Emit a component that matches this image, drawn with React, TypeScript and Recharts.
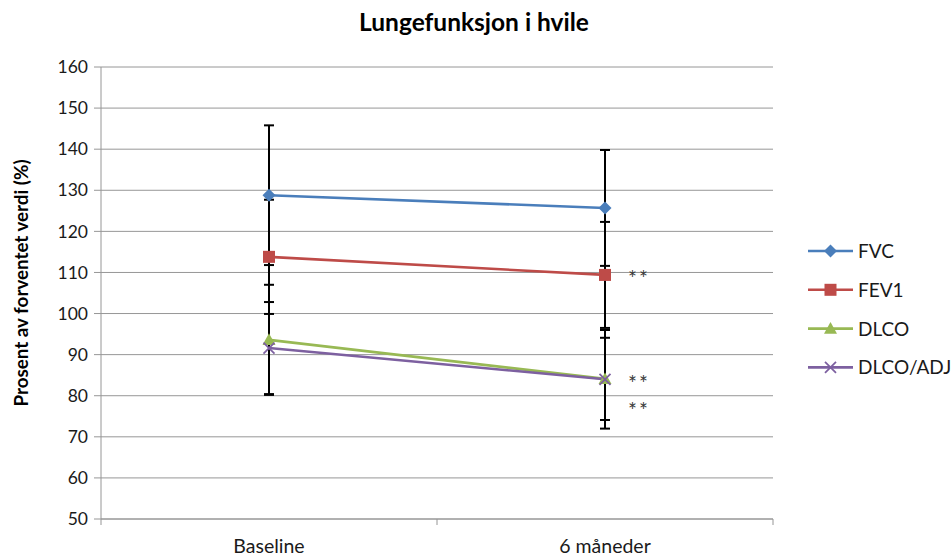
import React from "react";
import { LineChart, Line, XAxis, YAxis, CartesianGrid, ErrorBar } from "recharts";

const categories = ["Baseline", "6 måneder"];
const fvc = [128.8, 125.7];
const fvcErr = [17.0, 14.1];
const fev1 = [113.8, 109.4];
const fev1Err = [13.9, 12.9];
const dlco = [93.6, 84.1];
const dlcoErr = [13.4, 10.0];
const dlcoAdj = [91.6, 84.0];
const dlcoAdjErr = [11.2, 12.0];
const fev1Sig = ["", "**"];
const dlcoSig = ["", "**"];
const dlcoAdjSig = ["", "**"];
const yTicks = [50, 60, 70, 80, 90, 100, 110, 120, 130, 140, 150, 160];

const data = categories.map((c, i) => ({
  cat: c,
  fvc: fvc[i],
  fvcErr: fvcErr[i],
  fev1: fev1[i],
  fev1Err: fev1Err[i],
  dlco: dlco[i],
  dlcoErr: dlcoErr[i],
  dlcoAdj: dlcoAdj[i],
  dlcoAdjErr: dlcoAdjErr[i],
}));

const FONT = "Lato, 'Open Sans', sans-serif";
const C_FVC = "#4A7EBB";
const C_FEV1 = "#BE4B48";
const C_DLCO = "#98B954";
const C_ADJ = "#7D60A0";
const GRID = "#969696";

const Diamond = (p: any) => {
  const { cx, cy, fill } = p;
  if (cx == null || cy == null) return null;
  const r = 6.5;
  return <path d={`M${cx},${cy - r}L${cx + r},${cy}L${cx},${cy + r}L${cx - r},${cy}Z`} fill={fill} />;
};
const Square = (p: any) => {
  const { cx, cy, fill } = p;
  if (cx == null || cy == null) return null;
  const r = 6;
  return <rect x={cx - r} y={cy - r} width={2 * r} height={2 * r} fill={fill} />;
};
const Triangle = (p: any) => {
  const { cx, cy, fill } = p;
  if (cx == null || cy == null) return null;
  const r = 6.5;
  return <path d={`M${cx},${cy - r}L${cx + r},${cy + r * 0.8}L${cx - r},${cy + r * 0.8}Z`} fill={fill} />;
};
const Cross = (p: any) => {
  const { cx, cy, fill } = p;
  if (cx == null || cy == null) return null;
  const r = 5.5;
  return (
    <g stroke={fill} strokeWidth={1.8}>
      <line x1={cx - r} y1={cy - r} x2={cx + r} y2={cy + r} />
      <line x1={cx - r} y1={cy + r} x2={cx + r} y2={cy - r} />
    </g>
  );
};

const mkDot = (Shape: any, color: string) => (p: any) => <Shape key={`d${p.index}`} cx={p.cx} cy={p.cy} fill={color} />;

const mkSig = (arr: string[], dy: number) => (p: any) => {
  const { x, y, index } = p;
  const s = arr[index];
  if (!s) return null;
  return (
    <text key={`s${index}`} x={x + 23} y={y + dy} fontFamily={FONT} fontSize={21} fill="#3a3a3a" letterSpacing={2}>
      {s}
    </text>
  );
};

const XTick = (props: any) => {
  const { x, y, payload, index, visibleTicksCount } = props;
  const off = payload && payload.offset != null ? payload.offset : 0;
  const last = index === (visibleTicksCount ?? 2) - 1;
  return (
    <g>
      <line x1={x - off} x2={x - off} y1={y} y2={y + 6} stroke={GRID} />
      {last && <line x1={x + off} x2={x + off} y1={y} y2={y + 6} stroke={GRID} />}
      <text x={x} y={y + 34} textAnchor="middle" fontFamily={FONT} fontSize={19.5} fill="#1a1a1a">
        {payload.value}
      </text>
    </g>
  );
};

const YLabel = (p: any) => {
  const vb = p.viewBox || { y: 67, height: 452 };
  const cy = vb.y + vb.height / 2 - 10;
  return (
    <text
      x={28}
      y={cy}
      transform={`rotate(-90, 28, ${cy})`}
      textAnchor="middle"
      fontFamily={FONT}
      fontSize={18.8}
      fontWeight={700}
      fill="#000"
    >
      Prosent av forventet verdi (%)
    </text>
  );
};

const legendItems = [
  { name: "FVC", color: C_FVC, Shape: Diamond },
  { name: "FEV1", color: C_FEV1, Shape: Square },
  { name: "DLCO", color: C_DLCO, Shape: Triangle },
  { name: "DLCO/ADJ", color: C_ADJ, Shape: Cross },
];

export default function App() {
  return (
    <div style={{ position: "absolute", left: 0, top: 0, width: 952, height: 556, background: "#fff", overflow: "hidden" }}>
      <LineChart width={952} height={556} data={data} margin={{ top: 67, right: 179, bottom: 0, left: 0 }}>
        <CartesianGrid vertical={false} stroke={GRID} strokeWidth={1} />
        <XAxis
          dataKey="cat"
          scale="band"
          height={37}
          tickLine={false}
          tickSize={0}
          tickMargin={0}
          axisLine={{ stroke: GRID }}
          tick={<XTick />}
          interval={0}
        />
        <YAxis
          width={101}
          domain={[50, 160]}
          ticks={yTicks}
          interval={0}
          tickSize={7}
          tickMargin={6}
          tickLine={{ stroke: GRID }}
          axisLine={{ stroke: GRID }}
          tick={{ fontFamily: FONT, fontSize: 17.5, fill: "#1a1a1a" }}
          label={<YLabel />}
        />
        <Line dataKey="fvc" stroke={C_FVC} strokeWidth={2.6} dot={mkDot(Diamond, C_FVC)} isAnimationActive={false}>
          <ErrorBar dataKey="fvcErr" width={5} stroke="#000" strokeWidth={2} />
        </Line>
        <Line
          dataKey="fev1"
          stroke={C_FEV1}
          strokeWidth={2.6}
          dot={mkDot(Square, C_FEV1)}
          isAnimationActive={false}
          label={mkSig(fev1Sig, 11)}
        >
          <ErrorBar dataKey="fev1Err" width={5} stroke="#000" strokeWidth={2} />
        </Line>
        <Line
          dataKey="dlco"
          stroke={C_DLCO}
          strokeWidth={2.6}
          dot={mkDot(Triangle, C_DLCO)}
          isAnimationActive={false}
          label={mkSig(dlcoSig, 12)}
        >
          <ErrorBar dataKey="dlcoErr" width={5} stroke="#000" strokeWidth={2} />
        </Line>
        <Line
          dataKey="dlcoAdj"
          stroke={C_ADJ}
          strokeWidth={2.6}
          dot={mkDot(Cross, C_ADJ)}
          isAnimationActive={false}
          label={mkSig(dlcoAdjSig, 39)}
        >
          <ErrorBar dataKey="dlcoAdjErr" width={5} stroke="#000" strokeWidth={2} />
        </Line>
      </LineChart>
      <svg style={{ position: "absolute", left: 0, top: 0 }} width={952} height={556} pointerEvents="none">
        <text x={474} y={31} textAnchor="middle" fontFamily={FONT} fontSize={24.5} fontWeight={700} fill="#000">
          Lungefunksjon i hvile
        </text>
        {legendItems.map((it, i) => {
          const y = 251 + i * 38.8;
          const S = it.Shape;
          return (
            <g key={it.name}>
              <line x1={808} x2={853} y1={y} y2={y} stroke={it.color} strokeWidth={2.6} />
              <S cx={830.5} cy={y} fill={it.color} />
              <text x={858} y={y + 7} fontFamily={FONT} fontSize={19} fill="#1a1a1a">
                {it.name}
              </text>
            </g>
          );
        })}
      </svg>
    </div>
  );
}
